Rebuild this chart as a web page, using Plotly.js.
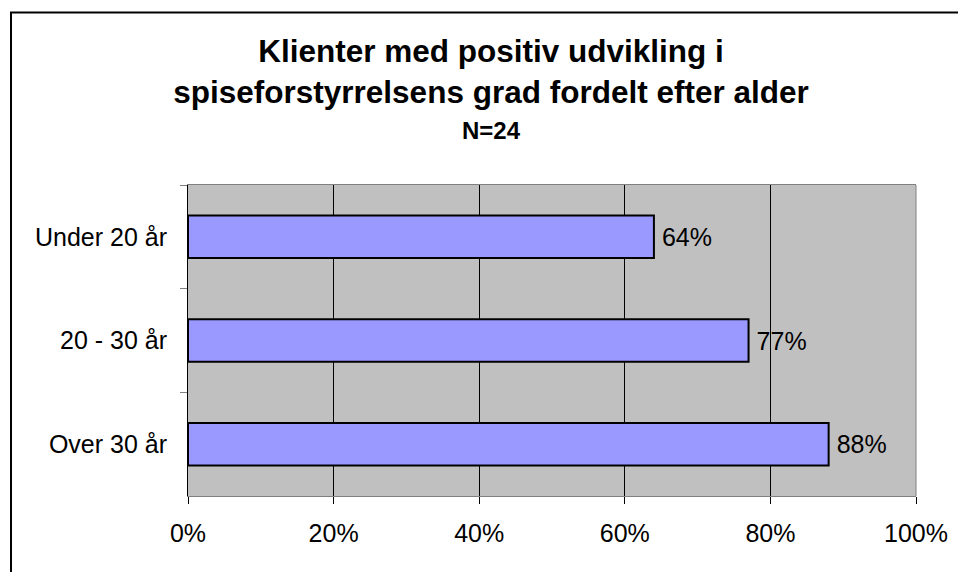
<!DOCTYPE html>
<html>
<head>
<meta charset="utf-8">
<script src="https://cdn.plot.ly/plotly-3.0.1.min.js"></script>
<style>
  html, body { margin: 0; padding: 0; background: #fff; overflow: hidden; }
  #chart { width: 958px; height: 572px; }
</style>
</head>
<body>
<div id="chart"></div>
<script>
// age groups, top to bottom
const ageGroups = ["Under 20 år", "20 - 30 år", "Over 30 år"];
// share of clients with positive development
const shares = [0.64, 0.77, 0.88];

const titleLines = [
  "Klienter med positiv udvikling i",
  "spiseforstyrrelsens grad fordelt efter alder"
];
const subtitle = "N=24";

const font = "Liberation Sans, Arial, sans-serif";

// plot area in pixels, used to place the frame
const L = 188, T = 185, W = 728, H = 311;
const px = v => (v - L) / W;
const py = v => 1 - (v - T) / H;

const trace = {
  type: "bar",
  orientation: "h",
  x: shares,
  y: ageGroups,
  marker: {
    color: "#9999FF",
    line: { color: "#000000", width: 2 }
  },
  texttemplate: "\u2009%{x:.0%}",
  textposition: "outside",
  textfont: { family: font, size: 25, color: "#000000" },
  cliponaxis: false,
  hoverinfo: "skip"
};

const layout = {
  width: 958,
  height: 572,
  margin: { l: L, r: 958 - L - W, t: T, b: 572 - T - H },
  paper_bgcolor: "#ffffff",
  plot_bgcolor: "#C0C0C0",
  showlegend: false,
  bargap: 0.59,
  font: { family: font, color: "#000000" },

  title: {
    text: titleLines.join("<br>"),
    font: { family: font, size: 31.5, weight: "bold", color: "#000000" },
    x: 491 / 958,
    xanchor: "center",
    y: 0.891,
    yanchor: "top"
  },

  annotations: [{
    text: "<b>" + subtitle + "</b>",
    xref: "paper", yref: "paper",
    x: px(491), y: py(130),
    xanchor: "center", yanchor: "middle",
    showarrow: false,
    font: { family: font, size: 24, color: "#000000" }
  }],

  xaxis: {
    range: [0, 1],
    dtick: 0.2,
    tickformat: ".0%",
    ticks: "outside",
    ticklen: 7,
    tickcolor: "#000000",
    showline: true,
    linecolor: "#808080",
    linewidth: 1,
    mirror: true,
    showgrid: true,
    gridcolor: "#000000",
    gridwidth: 1,
    zeroline: false,
    tickfont: { family: font, size: 25, color: "#000000" },
    ticklabelstandoff: 8,
    fixedrange: true
  },

  yaxis: {
    type: "category",
    autorange: "reversed",
    tickson: "boundaries",
    ticks: "outside",
    ticklen: 7,
    tickcolor: "#808080",
    showline: true,
    linecolor: "#000000",
    linewidth: 1,
    showgrid: false,
    zeroline: false,
    tickfont: { family: font, size: 25, color: "#000000" },
    ticklabelstandoff: 15,
    fixedrange: true
  },

  shapes: [
    {
      // right edge of plot area
      type: "line", xref: "paper", yref: "paper",
      x0: 1, x1: 1, y0: 0, y1: 1,
      line: { color: "#808080", width: 1 },
      layer: "above"
    },
    {
      // outer frame, left side
      type: "line", xref: "paper", yref: "paper",
      x0: px(11), x1: px(11), y0: py(12), y1: py(572),
      line: { color: "#000000", width: 2 },
      layer: "above"
    },
    {
      // outer frame, top side
      type: "line", xref: "paper", yref: "paper",
      x0: px(10), x1: px(958), y0: py(12.5), y1: py(12.5),
      line: { color: "#000000", width: 2 },
      layer: "above"
    }
  ]
};

Plotly.newPlot("chart", [trace], layout, { displayModeBar: false, staticPlot: true });
</script>
</body>
</html>
